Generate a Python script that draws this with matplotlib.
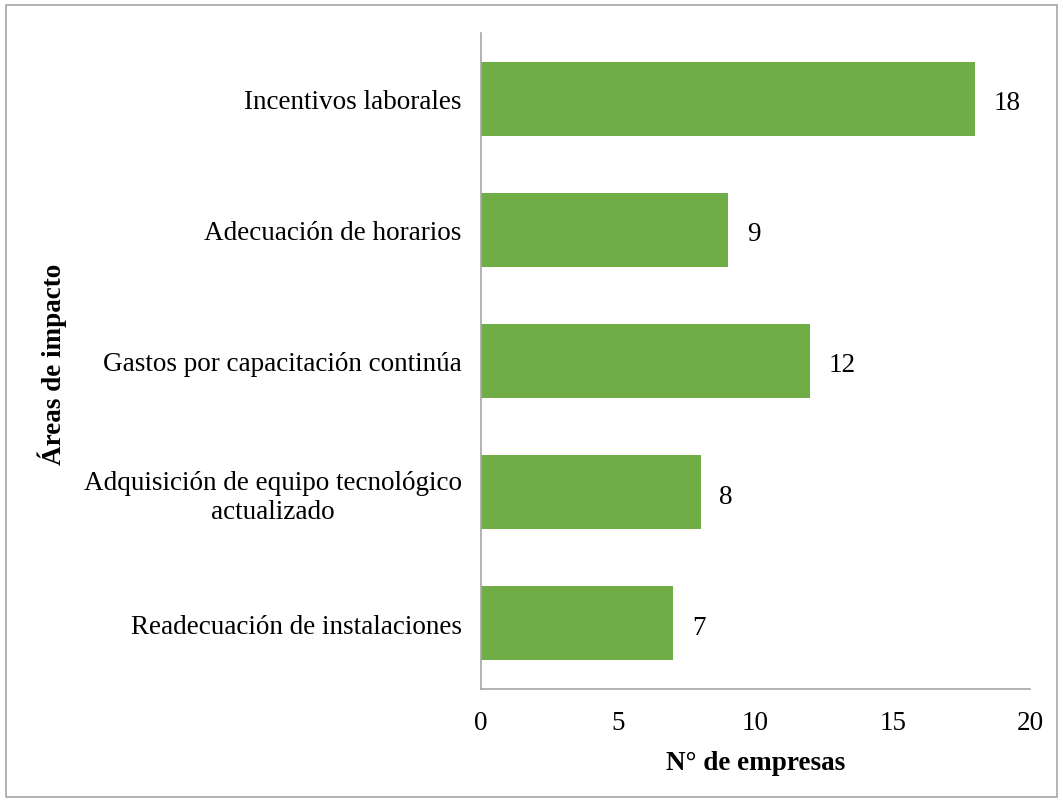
import matplotlib.pyplot as plt
from matplotlib.patches import Rectangle

plt.rcParams['font.family'] = ['Liberation Serif', 'DejaVu Serif']

areas = ['Readecuación de instalaciones',
         'Adquisición de equipo tecnológico\nactualizado',
         'Gastos por capacitación continúa',
         'Adecuación de horarios',
         'Incentivos laborales']
empresas = [7, 8, 12, 9, 18]
xticks = [0, 5, 10, 15, 20]

fs = 19.5

fig = plt.figure(figsize=(10.63, 8.03), dpi=100)
ax = fig.add_axes([0.4525, 0.1407, 0.5165, 0.817])

bars = ax.barh(range(len(areas)), empresas, height=0.565, color='#70AD47')
for b, v in zip(bars, empresas):
    # small downward nudge so the digits sit centred on the bar
    ax.text(b.get_width() + 0.68, b.get_y() + b.get_height() / 2 - 0.03, str(v),
            va='center', ha='left', fontsize=fs)

ax.set_xlim(0, 20)
ax.set_ylim(-0.5, len(areas) - 0.5)
ax.set_xticks(xticks)
ax.set_yticks(range(len(areas)))
ax.set_yticklabels(areas, multialignment='center')
ax.tick_params(axis='both', length=0, labelsize=fs)
ax.tick_params(axis='x', pad=15)
ax.tick_params(axis='y', pad=14)

for s in ['top', 'right']:
    ax.spines[s].set_visible(False)
for s in ['left', 'bottom']:
    ax.spines[s].set_color('#A6A6A6')
    ax.spines[s].set_linewidth(1.2)

ax.set_xlabel('N° de empresas', fontsize=fs, fontweight='bold', labelpad=11)
fig.text(0.049, 0.546, 'Áreas de impacto', rotation=90, fontsize=fs,
         fontweight='bold', ha='center', va='center')

# thin frame round the whole chart
fig.patches.append(Rectangle((0.006, 0.006), 0.988, 0.986, transform=fig.transFigure,
                             fill=False, edgecolor='#A6A6A6', linewidth=1.2))

fig.savefig('out.png', dpi=100)
